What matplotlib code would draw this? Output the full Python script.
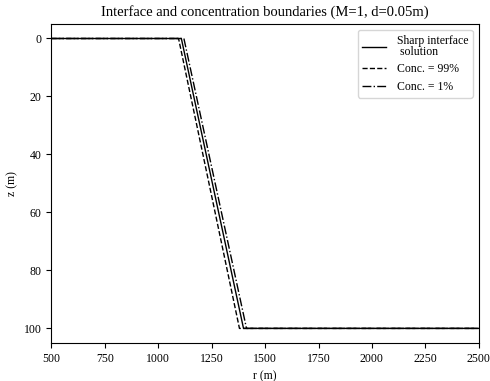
import matplotlib
matplotlib.use("Agg")
import matplotlib.pyplot as plt

plt.rcParams['font.family'] = ['Liberation Serif', 'DejaVu Serif']
plt.rcParams['mathtext.fontset'] = 'stix'

# Data (r in m, z in m)
sharp_r = [500, 1108, 1399, 2500]
sharp_z = [0, 0, 100, 100]
c99_r = [500, 1095, 1380, 2500]
c99_z = [0, 0, 100, 100]
c1_r = [500, 1120, 1413, 2500]
c1_z = [0, 0, 100, 100]

fig, ax = plt.subplots(figsize=(4.9, 3.81), dpi=100)
ax.plot(sharp_r, sharp_z, color='black', linestyle='-', linewidth=1.0, label='Sharp interface\n solution')
ax.plot(c99_r, c99_z, color='black', linestyle='--', linewidth=1.0, label='Conc. = 99%')
ax.plot(c1_r, c1_z, color='black', linestyle='-.', linewidth=1.0, label='Conc. = 1%')

ax.set_xlim(500, 2500)
ax.set_ylim(105, -5)
ax.set_xticks([500, 750, 1000, 1250, 1500, 1750, 2000, 2250, 2500])
ax.set_yticks([0, 20, 40, 60, 80, 100])
ax.tick_params(labelsize=8.5)
ax.set_xlabel('r (m)', fontsize=8.5)
ax.set_ylabel('z (m)', fontsize=8.5)
ax.set_title('Interface and concentration boundaries (M=1, d=0.05m)', fontsize=10.5)
leg = ax.legend(loc='upper right', fontsize=8.5, labelspacing=0.45, handletextpad=0.9)
leg.get_texts()[0].set_linespacing(0.95)

fig.subplots_adjust(left=0.105, right=0.977, bottom=0.10, top=0.937)
fig.savefig('out.png', dpi=100)
